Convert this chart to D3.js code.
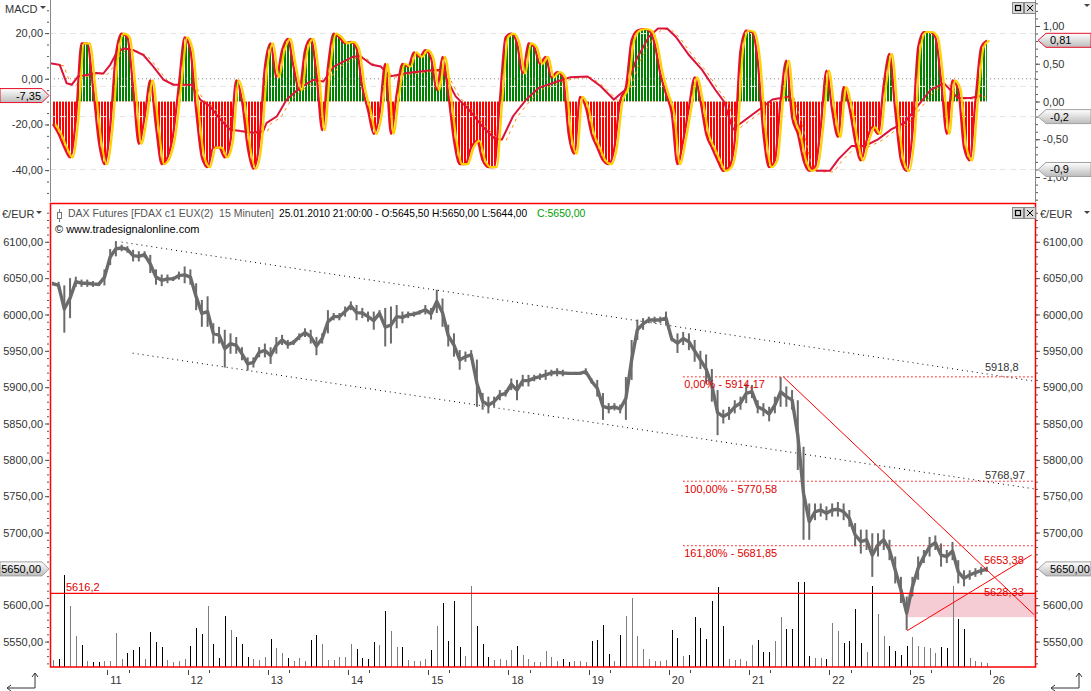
<!DOCTYPE html>
<html>
<head>
<meta charset="utf-8">
<script src="https://cdn.jsdelivr.net/npm/d3@7"></script>
<style>
  body { margin: 0; background: #fff; }
  svg { display: block; font-family: "Liberation Sans", Arial, sans-serif; }
</style>
</head>
<body>
<script>
// ---- data (hourly bars, DAX future, 08.01.2010 12:00 .. 25.01.2010 22:00) ----
var dayLabels = ["11", "12", "13", "14", "15", "18", "19", "20", "21", "22", "25", "26"];
var dayStart = [10, 24, 38, 52, 66, 80, 94, 108, 122, 136, 150, 164];

var hi = [6045, 6045, 6040, 6050, 6052, 6048, 6048, 6046, 6044, 6062,
  6090, 6101, 6096, 6094, 6089, 6087, 6087, 6082, 6062, 6055, 6055, 6052, 6059, 6066,
  6062, 6043, 6020, 6025, 5988, 5983, 5979, 5974, 5969, 5955, 5941, 5941, 5955, 5960,
  5955, 5969, 5972, 5965, 5965, 5974, 5981, 5979, 5969, 5974, 6006, 6002, 6002, 6011,
  6018, 6013, 6009, 6004, 6004, 6006, 6009, 6011, 6013, 6004, 6004, 6004, 6006, 6013,
  6009, 6034, 6022, 5986, 5974, 5951, 5949, 5951, 5938, 5892, 5887, 5887, 5896, 5896,
  5912, 5910, 5917, 5917, 5917, 5919, 5924, 5924, 5926, 5924, 5921, 5921, 5921, 5926,
  5912, 5910, 5892, 5878, 5878, 5876, 5914, 5965, 5993, 5995, 5997, 5997, 5997, 6004,
  5970, 5974, 5976, 5974, 5965, 5950, 5945, 5925, 5896, 5869, 5873, 5882, 5887, 5905,
  5903, 5882, 5878, 5873, 5887, 5914, 5901, 5896, 5882, 5818, 5740, 5740, 5740, 5736,
  5740, 5742, 5740, 5731, 5713, 5704, 5704, 5699, 5699, 5704, 5690, 5667, 5639, 5612,
  5639, 5667, 5676, 5694, 5696, 5685, 5676, 5687, 5662, 5648, 5648, 5651, 5653, 5653];
var lo = [6040, 6035, 5975, 5995, 6038, 6038, 6038, 6038, 6039, 6040,
  6068, 6080, 6087, 6085, 6073, 6073, 6078, 6057, 6041, 6039, 6043, 6046, 6048, 6043,
  6041, 6006, 5983, 5983, 5960, 5960, 5927, 5946, 5946, 5937, 5923, 5927, 5941, 5941,
  5932, 5946, 5958, 5953, 5958, 5965, 5969, 5960, 5944, 5960, 5974, 5992, 5992, 5997,
  6006, 5992, 5995, 5990, 5979, 5997, 5956, 5960, 5981, 5988, 5995, 5997, 6000, 6000,
  5993, 6002, 5983, 5956, 5942, 5924, 5935, 5938, 5873, 5869, 5864, 5873, 5882, 5887,
  5896, 5882, 5901, 5901, 5908, 5910, 5910, 5915, 5915, 5915, 5917, 5917, 5917, 5917,
  5905, 5887, 5855, 5864, 5868, 5864, 5855, 5910, 5965, 5979, 5988, 5988, 5988, 5986,
  5963, 5947, 5958, 5951, 5935, 5925, 5905, 5880, 5834, 5850, 5855, 5864, 5869, 5878,
  5885, 5864, 5860, 5853, 5864, 5873, 5873, 5869, 5786, 5690, 5690, 5717, 5722, 5717,
  5722, 5722, 5717, 5708, 5681, 5671, 5676, 5639, 5667, 5676, 5662, 5630, 5603, 5566,
  5612, 5635, 5658, 5667, 5676, 5653, 5658, 5662, 5630, 5626, 5635, 5639, 5642, 5646];
var vol = [7, 8, 92, 61, 31, 22, 6, 5, 5, 6,
  6, 34, 8, 14, 17, 20, 8, 35, 25, 20, 7, 5, 6, 8,
  21, 39, 33, 61, 23, 9, 51, 37, 30, 23, 10, 8, 7, 10,
  28, 19, 14, 9, 6, 9, 6, 27, 32, 23, 7, 7, 10, 10,
  23, 18, 9, 8, 25, 22, 56, 36, 20, 20, 7, 6, 6, 8,
  17, 41, 64, 26, 66, 20, 11, 81, 41, 23, 10, 7, 8, 7,
  17, 21, 12, 8, 5, 5, 16, 10, 6, 8, 5, 6, 6, 5,
  26, 27, 42, 13, 6, 32, 51, 69, 31, 18, 8, 6, 6, 7,
  37, 29, 11, 12, 50, 39, 28, 66, 80, 41, 8, 7, 8, 6,
  22, 27, 15, 15, 26, 50, 38, 38, 85, 85, 11, 9, 9, 8,
  44, 36, 24, 26, 58, 24, 15, 81, 53, 31, 21, 16, 12, 21,
  30, 21, 20, 19, 14, 20, 19, 81, 48, 38, 9, 6, 5, 4];
var lastBar = { o: 5645.5, h: 5650, l: 5644, c: 5650 };

// MACD panel: fast oscillator (right scale) and slow line (left scale)
var osc = [-0.3, -0.43, -0.61, -0.74, -0.25, 0.77, 0.77, 0.19, -0.52, -0.83,
  -0.34, 0.63, 0.9, 0.85, 0.19, -0.56, -0.21, 0.28, -0.34, -0.83, -0.74, -0.43, 0.23, 0.85,
  0.68, -0.12, -0.74, -0.87, -0.61, -0.61, -0.74, -0.52, 0.28, 0.01, -0.61, -0.89, -0.56, 0.46,
  0.77, 0.32, 0.68, 0.83, 0.46, 0.15, 0.68, 0.83, 0.37, -0.38, 0.46, 0.9, 0.85, 0.77,
  0.79, 0.7, 0.19, -0.12, -0.43, -0.16, 0.5, -0.43, 0.1, 0.5, 0.46, 0.65, 0.59, 0.68,
  0.57, 0.15, 0.59, 0.1, -0.52, -0.83, -0.83, -0.61, -0.52, -0.78, -0.87, -0.87, 0.01, 0.85,
  0.9, 0.77, 0.37, 0.77, 0.72, 0.5, 0.59, 0.32, 0.39, 0.32, -0.43, -0.69, 0.06, -0.08,
  -0.43, -0.61, -0.78, -0.83, -0.61, 0.01, 0.19, 0.81, 0.94, 0.96, 0.94, 0.77, 0.37, 0.1,
  -0.16, -0.83, -0.52, -0.08, 0.32, 0.01, -0.43, -0.61, -0.78, -0.92, -0.87, -0.52, 0.68, 0.94,
  0.92, 0.54, -0.43, -0.87, -0.78, 0.01, 0.54, -0.21, -0.43, -0.78, -0.92, -0.87, -0.34, 0.41,
  -0.12, -0.47, 0.19, -0.08, -0.52, -0.78, -0.52, -0.34, -0.43, 0.23, 0.63, -0.12, -0.78, -0.92,
  -0.43, 0.72, 0.92, 0.92, 0.85, 0.28, -0.43, 0.28, 0.15, -0.61, -0.78, 0.01, 0.72, 0.81];
var slowAt = [-0.5, 1.2, 2.4, 3.3, 4.4, 5.9, 7.6, 8.8, 10, 11.1,
  12.3, 14, 15.8, 17.5, 19.3, 21, 22.8, 24.2, 25.7, 27.4,
  29.2, 30.9, 32.7, 35, 36.7, 37.3, 39.1, 40.8, 43.1, 45.5,
  47.2, 49, 50.7, 52.4, 53.6, 55.7, 57.2, 58.8, 61.8, 65.6,
  67.9, 70.3, 72.6, 74.9, 77.2, 78.4, 80.3, 82.6, 84.8, 88,
  90.3, 93.3, 95.6, 97.9, 99.9, 101.8, 104, 105.6, 107.2, 108.7,
  111, 113.3, 115.6, 117.1, 118.7, 119.4, 122.5, 125.6, 128.6, 130.2,
  131.7, 133.3, 135.6, 137.1, 139.4, 141.7, 144, 146.3, 148.6, 150.9,
  153.2, 155.5, 157.9, 160.2, 162.1];
var slowVal = [6.8, 6.1, -1.9, -2.6, 1, 1.7, 2.5, 2.3, 6.1, 11.2,
  13.3, 12.6, 10.4, 5.4, -0.4, -2.6, -2.6, -2.6, -9.1, -12,
  -17.8, -22.2, -22.9, -23.6, -22.9, -19.3, -16.4, -9.1, -4, -0.4,
  -1.2, 5.3, 7.5, 9.7, 10, 6.1, 5.4, 1, 2.5, 3.6,
  3.9, -7.7, -13.5, -20.7, -26.5, -26.5, -16.4, -9.1, -4, -1.2,
  0.7, 1, -3.3, -9.1, -4.8, 8.3, 18.4, 22, 22, 18.4,
  10.4, 3.9, -4.8, -9.9, -22.2, -20.7, -14.9, -9.1, -7.7, -20.7,
  -38.1, -40.3, -40.3, -35.2, -29.4, -29.4, -26.5, -22.2, -19.3, -12,
  -4.8, -1.9, -8.4, -8.4, -7.35];
var macdLevels = [0.9, 0.2, -0.2, -0.9];

// drawings on the price chart: [startHour, startPrice, endHour, endPrice]
var channels = [[12.5, 6099.6, 172, 5907.9], [14.43, 5946.8, 172, 5759.8]];
var channelLabels = ["5918,8", "5768,97"];
var fibNames = ["0,00%", "100,00%", "161,80%"];
var fibLevels = [5914.17, 5770.58, 5681.85];
var fibFrom = 110.5;
var trends = [[127.98, 5914.17, 171.7, 5587.2], [149.6, 5565, 171.3, 5669.2]];
var trendLabels = ["5653,38", "5628,33"];
var support = 5616.2;
var zone = [149.6, 172, 5583.6, 5616.2];

// ---- setup ----
var W = 1091, H = 691;
var svg = d3.select("body").append("svg").attr("width", W).attr("height", H);
var defs = svg.append("defs");

var loc = d3.formatLocale({ decimal: ",", thousands: ".", grouping: [3], currency: ["", ""], minus: "-" });
var f2 = loc.format(".2f");

var x = d3.scaleLinear().domain([0, 172]).range([50, 1035.6]);
var yP = d3.scaleLinear().domain([5515, 6152]).range([667, 204]);
var yV = d3.scaleLinear().domain([0, 90]).range([667, 577]);
var yR = d3.scaleLinear().domain([-1.344, 1.344]).range([203, 0]);
var yL = d3.scaleLinear().domain([-54.4, 34.5]).range([203, 0]);

function styleAxis(g) {
  g.select(".domain").remove();
  g.selectAll("line").attr("stroke", "#555");
  g.selectAll("text").attr("font-size", 11).attr("fill", "#333")
    .attr("font-family", '"Liberation Sans", Arial, sans-serif');
}
// minor ticks only, no text
function minorAxis(g) {
  g.select(".domain").remove();
  g.selectAll("text").remove();
  g.selectAll("line").attr("stroke", "#555");
}
// the price label of the last close hides the axis label behind it
function priceLabel(d) { return d === lastBar.c ? "" : f2(d); }

// clip paths
defs.append("clipPath").attr("id", "clipMacd").append("rect")
  .attr("x", 50).attr("y", 0).attr("width", 985.5).attr("height", 202);
defs.append("clipPath").attr("id", "clipUp").append("rect")
  .attr("x", 50).attr("y", 0).attr("width", 985.5).attr("height", yR(0));
defs.append("clipPath").attr("id", "clipDown").append("rect")
  .attr("x", 50).attr("y", yR(0)).attr("width", 985.5).attr("height", 202 - yR(0));
defs.append("clipPath").attr("id", "clipMain").append("rect")
  .attr("x", 50).attr("y", 204).attr("width", 985.5).attr("height", 463);

// striped fills for the histogram
function stripes(id, col) {
  var p = defs.append("pattern").attr("id", id).attr("patternUnits", "userSpaceOnUse")
    .attr("x", 50).attr("width", 3).attr("height", 10);
  p.append("rect").attr("width", 2).attr("height", 10).attr("fill", col);
}
stripes("stG", "#008000");
stripes("stR", "#ff0000");

var grad = defs.append("linearGradient").attr("id", "tagGrad")
  .attr("x1", 0).attr("y1", 0).attr("x2", 0).attr("y2", 1);
grad.append("stop").attr("offset", "0%").attr("stop-color", "#ffffff");
grad.append("stop").attr("offset", "100%").attr("stop-color", "#bcbcbc");

// ---- MACD panel ----
var gM = svg.append("g").attr("clip-path", "url(#clipMacd)");

var oscArea = d3.area().x(function (d, i) { return x(i + 0.5); })
  .y0(yR(0)).y1(function (d) { return yR(d); }).curve(d3.curveMonotoneX);
gM.append("path").datum(osc).attr("d", oscArea).attr("fill", "url(#stG)").attr("clip-path", "url(#clipUp)");
gM.append("path").datum(osc).attr("d", oscArea).attr("fill", "url(#stR)").attr("clip-path", "url(#clipDown)");

gM.selectAll("line.lvl").data(macdLevels).join("line").attr("class", "lvl")
  .attr("x1", 50).attr("x2", 1035).attr("y1", function (d) { return yR(d); }).attr("y2", function (d) { return yR(d); })
  .attr("stroke", "#e6e6e6").attr("stroke-dasharray", "6,4");
gM.append("line").attr("x1", 50).attr("x2", 1035).attr("y1", yL(0)).attr("y2", yL(0))
  .attr("stroke", "#888").attr("stroke-dasharray", "1,3");

var slowLine = d3.line().x(function (d, i) { return x(slowAt[i] + 0.5); }).y(function (d) { return yL(d); });
gM.append("path").datum(slowVal).attr("d", slowLine).attr("transform", "translate(4,1)")
  .attr("fill", "none").attr("stroke", "#ff8c00").attr("stroke-width", 1).attr("stroke-dasharray", "3,4");
gM.append("path").datum(slowVal).attr("d", slowLine)
  .attr("fill", "none").attr("stroke", "#dc143c").attr("stroke-width", 2);

var oscLine = d3.line().x(function (d, i) { return x(i + 0.5); }).y(function (d) { return yR(d); }).curve(d3.curveMonotoneX);
gM.append("path").datum(osc).attr("d", oscLine)
  .attr("fill", "none").attr("stroke", "#e8102a").attr("stroke-width", 2.2);
gM.append("path").datum(osc).attr("d", oscLine).attr("transform", "translate(2.5,0)")
  .attr("fill", "none").attr("stroke", "#ffd200").attr("stroke-width", 2.2);

// MACD axes
svg.append("line").attr("x1", 50.5).attr("x2", 50.5).attr("y1", 0).attr("y2", 202).attr("stroke", "#888");
svg.append("line").attr("x1", 1035.5).attr("x2", 1035.5).attr("y1", 0).attr("y2", 202).attr("stroke", "#888");
svg.append("g").attr("transform", "translate(49,0)")
  .call(d3.axisLeft(yL).tickValues([20, 0, -20, -40]).tickFormat(f2).tickSize(4).tickPadding(2)).call(styleAxis);
svg.append("g").attr("transform", "translate(49,0)")
  .call(d3.axisLeft(yL).tickValues(d3.range(-50, 35, 5)).tickSize(2)).call(minorAxis);
svg.append("g").attr("transform", "translate(1036,0)")
  .call(d3.axisRight(yR).tickValues([1, 0.5, 0, -0.5, -1]).tickFormat(f2).tickSize(4).tickPadding(3)).call(styleAxis);
svg.append("g").attr("transform", "translate(1036,0)")
  .call(d3.axisRight(yR).tickValues(d3.range(-13, 14).map(function (d) { return d / 10; })).tickSize(2)).call(minorAxis);

// ---- price panel ----
var gP = svg.append("g").attr("clip-path", "url(#clipMain)");

gP.append("rect").attr("x", x(zone[0])).attr("width", x(zone[1]) - x(zone[0]))
  .attr("y", yP(zone[3])).attr("height", yP(zone[2]) - yP(zone[3])).attr("fill", "#f6ccd4");

function mid(i) { return (hi[i] + lo[i]) / 2; }
gP.selectAll("rect.vol").data(vol).join("rect").attr("class", "vol")
  .attr("x", function (d, i) { return Math.round(x(i + 0.5)); }).attr("width", 1)
  .attr("y", function (d) { return yV(d); }).attr("height", function (d) { return yV(0) - yV(d); })
  .attr("fill", function (d, i) { return i > 0 && mid(i) < mid(i - 1) ? "#000" : "#7d7d7d"; });

gP.selectAll("line.chan").data(channels).join("line").attr("class", "chan")
  .attr("x1", function (d) { return x(d[0]); }).attr("y1", function (d) { return yP(d[1]); })
  .attr("x2", function (d) { return x(d[2]); }).attr("y2", function (d) { return yP(d[3]); })
  .attr("stroke", "#000").attr("stroke-dasharray", "1,4");
gP.selectAll("line.fib").data(fibLevels).join("line").attr("class", "fib")
  .attr("x1", x(fibFrom)).attr("x2", 1035).attr("y1", function (d) { return yP(d); }).attr("y2", function (d) { return yP(d); })
  .attr("stroke", "#ff0000").attr("stroke-dasharray", "1.5,2.5");

// price: hourly high-low bars joined by a line through the bar middles
gP.selectAll("rect.bar").data(hi).join("rect").attr("class", "bar")
  .attr("x", function (d, i) { return x(i + 0.5) - 1; }).attr("width", 2)
  .attr("y", function (d) { return yP(d); }).attr("height", function (d, i) { return Math.max(1, yP(lo[i]) - yP(d)); })
  .attr("fill", "#6b6b6b");
var midLine = d3.line().x(function (d, i) { return x(i + 0.5); }).y(function (d, i) { return yP(mid(i)); });
gP.append("path").datum(hi).attr("d", midLine).attr("fill", "none")
  .attr("stroke", "#6b6b6b").attr("stroke-width", 3.4).attr("stroke-linejoin", "round");

gP.append("line").attr("x1", 50).attr("x2", 1035).attr("y1", yP(support)).attr("y2", yP(support))
  .attr("stroke", "#ff0000").attr("stroke-width", 1.3);
gP.selectAll("line.trend").data(trends).join("line").attr("class", "trend")
  .attr("x1", function (d) { return x(d[0]); }).attr("y1", function (d) { return yP(d[1]); })
  .attr("x2", function (d) { return x(d[2]); }).attr("y2", function (d) { return yP(d[3]); })
  .attr("stroke", "#ff0000").attr("stroke-width", 1);

// labels inside the price panel
var lab = svg.append("g").attr("font-size", 11);
lab.selectAll("text.fib").data(fibLevels).join("text").attr("class", "fib")
  .attr("x", x(fibFrom) + 1).attr("y", function (d) { return yP(d) + 11.5; }).attr("fill", "#e00000")
  .text(function (d, i) { return fibNames[i] + " - " + f2(d); });
lab.selectAll("text.chan").data(channels).join("text").attr("class", "chan")
  .attr("x", 985).attr("y", function (d) {
    var t = (164 - d[0]) / (d[2] - d[0]);
    return yP(d[1] + t * (d[3] - d[1])) - 3;
  }).attr("fill", "#333").text(function (d, i) { return channelLabels[i]; });
lab.append("text").attr("x", 984).attr("y", 564).attr("fill", "#e00000").text(trendLabels[0]);
lab.append("text").attr("x", 984).attr("y", 596).attr("fill", "#e00000").text(trendLabels[1]);
lab.append("text").attr("x", 66).attr("y", yP(support) - 2).attr("fill", "#e00000").text(String(support).replace(".", ","));

// header
svg.append("line").attr("x1", 59.5).attr("x2", 59.5).attr("y1", 209).attr("y2", 222).attr("stroke", "#777");
svg.append("rect").attr("x", 57.5).attr("y", 212.5).attr("width", 4).attr("height", 6).attr("fill", "#fff").attr("stroke", "#777");
svg.append("text").attr("x", 68).attr("y", 217).attr("font-size", 10.5).attr("fill", "#555")
  .style("white-space", "pre").text("DAX Futures [FDAX c1 EUX(2)  15 Minuten]");
svg.append("text").attr("x", 279).attr("y", 217).attr("font-size", 10.2).attr("fill", "#000")
  .text("25.01.2010 21:00:00 - O:" + f2(lastBar.o) + " H:" + f2(lastBar.h) + " L:" + f2(lastBar.l));
svg.append("text").attr("x", 537).attr("y", 217).attr("font-size", 10.5).attr("fill", "#00a000")
  .text("C:" + f2(lastBar.c));
svg.append("text").attr("x", 55).attr("y", 233).attr("font-size", 11).attr("fill", "#000")
  .text("\u00a9 www.tradesignalonline.com");

// price panel border
svg.append("rect").attr("x", 50.5).attr("y", 203.5).attr("width", 985).attr("height", 463.5)
  .attr("fill", "none").attr("stroke", "#ff0000").attr("stroke-width", 1.5);

// price axes
svg.append("g").attr("transform", "translate(49,0)")
  .call(d3.axisLeft(yP).tickValues(d3.range(5550, 6101, 50)).tickFormat(priceLabel).tickSize(4).tickPadding(2)).call(styleAxis);
svg.append("g").attr("transform", "translate(49,0)")
  .call(d3.axisLeft(yP).tickValues(d3.range(5520, 6150, 10)).tickSize(2)).call(minorAxis);
svg.append("g").attr("transform", "translate(1036,0)")
  .call(d3.axisRight(yP).tickValues(d3.range(5550, 6101, 50)).tickFormat(priceLabel).tickSize(4).tickPadding(3)).call(styleAxis);
svg.append("g").attr("transform", "translate(1036,0)")
  .call(d3.axisRight(yP).tickValues(d3.range(5520, 6150, 10)).tickSize(2)).call(minorAxis);

// time axis
var gx = svg.append("g");
gx.selectAll("line.maj").data(dayStart).join("line").attr("class", "maj")
  .attr("x1", function (d) { return Math.round(x(d)) + 0.5; }).attr("x2", function (d) { return Math.round(x(d)) + 0.5; })
  .attr("y1", 670).attr("y2", 675).attr("stroke", "#444");
gx.selectAll("line.min").data(dayStart.slice(0, -1)).join("line").attr("class", "min")
  .attr("x1", function (d) { return Math.round(x(d + 3.7)) + 0.5; }).attr("x2", function (d) { return Math.round(x(d + 3.7)) + 0.5; })
  .attr("y1", 670).attr("y2", 673).attr("stroke", "#444");
gx.selectAll("text").data(dayLabels).join("text")
  .attr("x", function (d, i) { return x(dayStart[i]) + 3; }).attr("y", 684)
  .attr("font-size", 11).attr("fill", "#333").text(function (d) { return d; });

// axis titles and panel buttons
svg.append("text").attr("x", 5).attr("y", 13).attr("font-size", 11).attr("fill", "#333").text("MACD");
svg.append("text").attr("x", 2).attr("y", 218).attr("font-size", 11).attr("fill", "#333").text("\u20ac/EUR");
svg.append("text").attr("x", 1040).attr("y", 218).attr("font-size", 11).attr("fill", "#333").text("\u20ac/EUR");
[[40, 6], [36, 211], [1084, 211], [1084, 4]].forEach(function (p) {
  svg.append("path").attr("d", "M" + p[0] + "," + p[1] + "h6l-3,3z").attr("fill", "#444");
});
[2, 207].forEach(function (yb) {
  svg.append("rect").attr("x", 1012.5).attr("y", yb + 0.5).attr("width", 11).attr("height", 11).attr("fill", "#d8d8d8").attr("stroke", "#888");
  svg.append("rect").attr("x", 1015.5).attr("y", yb + 3.5).attr("width", 5).attr("height", 5).attr("fill", "none").attr("stroke", "#000").attr("stroke-width", 1.2);
  svg.append("rect").attr("x", 1024.5).attr("y", yb + 0.5).attr("width", 11).attr("height", 11).attr("fill", "#d8d8d8").attr("stroke", "#888");
  svg.append("path").attr("d", "M1027," + (yb + 3) + "l6,6M1033," + (yb + 3) + "l-6,6").attr("stroke", "#000");
});

// value tags
function tag(side, yc, text, red) {
  var p = side === "left"
    ? [[0, yc - 7], [42, yc - 7], [49, yc], [42, yc + 7], [0, yc + 7]]
    : [[1091, yc - 7], [1046, yc - 7], [1038, yc], [1046, yc + 7], [1091, yc + 7]];
  svg.append("path").attr("d", d3.line()(p) + "Z").attr("fill", "url(#tagGrad)")
    .attr("stroke", red ? "#e8102a" : "#a0a0a0").attr("stroke-width", 1);
  svg.append("text").attr("x", side === "left" ? 41 : 1050).attr("y", yc + 4)
    .attr("text-anchor", side === "left" ? "end" : "start")
    .attr("font-size", 11).attr("fill", "#000").text(text);
}
tag("left", yL(slowVal[slowVal.length - 1]), f2(slowVal[slowVal.length - 1]), true);
tag("right", yR(osc[osc.length - 1]), f2(osc[osc.length - 1]), true);
tag("right", yR(macdLevels[2]), "-0,2", false);
tag("right", yR(macdLevels[3]), "-0,9", false);
tag("left", yP(lastBar.c), f2(lastBar.c), false);
tag("right", yP(lastBar.c), f2(lastBar.c), false);

// corner arrows
[[7, 35], [1051, 1079]].forEach(function (c) {
  svg.append("path").attr("d", "M" + c[0] + ",688H" + c[1] + "V673M" + (c[0] + 4) + ",685L" + c[0] + ",688L" + (c[0] + 4) + ",691M" + (c[1] - 3) + ",677L" + c[1] + ",673L" + (c[1] + 3) + ",677")
    .attr("fill", "none").attr("stroke", "#333");
});
</script>
</body>
</html>
